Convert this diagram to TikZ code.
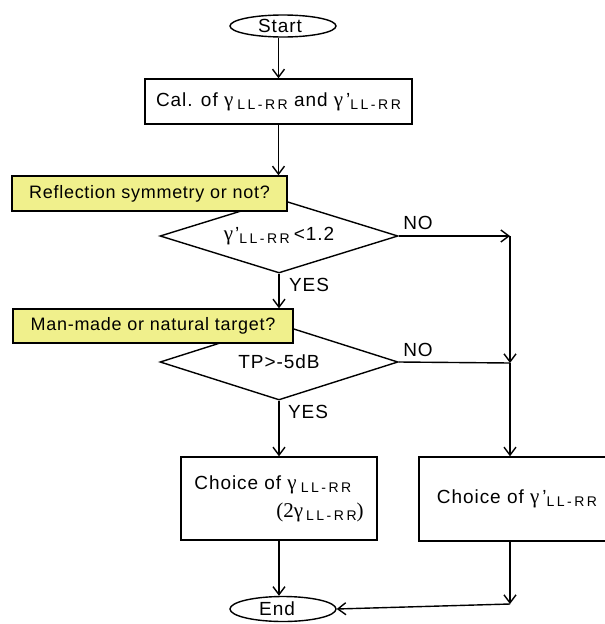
\documentclass[tikz,border=0pt]{standalone}
\usepackage{fontspec}
\setmainfont{Liberation Sans}[LetterSpace=5]
\newfontfamily\gfont{Liberation Serif}
\usetikzlibrary{shapes.geometric,arrows.meta}
\definecolor{labfill}{RGB}{240,240,140}
\newcommand{\gam}{{\gfont\fontsize{21}{23}\selectfont γ}}
\newcommand{\sublr}{\raisebox{-3pt}{\fontsize{14}{14}\selectfont\addfontfeature{LetterSpace=18}LL-RR}}
\begin{document}
\begin{tikzpicture}[x=1pt,y=-1pt,
  every node/.style={font=\fontsize{19}{23}\selectfont},
  ln/.style={line width=1.4pt},
  arr/.style={ln,-{Straight Barb[length=8pt,width=12pt,line width=1.4pt]}},
  term/.style={draw,ln,ellipse,inner sep=0pt},
  box/.style={draw,ln,rectangle,inner sep=0pt},
  lab/.style={draw,ln,rectangle,inner sep=0pt,fill=labfill,font=\fontsize{18}{22}\selectfont\addfontfeature{LetterSpace=4}},
  dia/.style={draw,ln,diamond,aspect=3.2,inner sep=0pt,minimum width=238pt}
]
\useasboundingbox (0,0) rectangle (605,624);
\clip (0,0) rectangle (605,624);
\fill[white] (0,0) rectangle (605,624);

% terminals
\node[term,minimum width=106pt,minimum height=22pt] (start) at (283,26) {};
\node (starttxt) at (280,26) {Start};
\node[term,minimum width=106pt,minimum height=25pt] (end) at (283,609) {};
\node (endtxt) at (277,609) {End};

% process boxes
\node[box,minimum width=267pt,minimum height=45pt] (box1) at (278.5,101.5)
  {Cal. of \gam\hspace{4pt}\sublr{} and \gam\hspace{3pt}'\sublr};
\node[box,minimum width=196pt,minimum height=83pt,align=left] (c1) at (279,498.5)
  {Choice of \gam\hspace{4pt}\sublr\\[5pt]\hspace*{82pt}{\gfont\fontsize{21}{23}\selectfont (2γ}\hspace{3pt}\sublr{\gfont\fontsize{21}{23}\selectfont )}};
\node[box,minimum width=196pt,minimum height=84pt] (c2) at (517,499)
  {Choice of \gam\hspace{3pt}'\sublr};

% decisions
\node[dia,minimum height=74pt] (d1) at (279,236) {\gam\hspace{2pt}'\sublr\hspace{4pt}<1.2};
\node[dia,minimum height=76pt] (d2) at (279,362) {TP>-5dB};

% question labels
\node[lab,minimum width=275pt,minimum height=35pt] (lab1) at (149.5,193.5)
  {Reflection symmetry or not?};
\node[lab,minimum width=280pt,minimum height=34pt] (lab2) at (153,326)
  {Man-made or natural target?};

% junction points
\coordinate (j1) at (510,236);
\coordinate (j2) at (510,363);
\coordinate (j4) at (510,604);

% connectors
\draw[arr] (box1.north |- start.south) -- (box1.north);
\draw[arr] (box1.south) -- (box1.south |- lab1.north);
\draw[arr] (d1.south) -- (d1.south |- lab2.north);
\draw[arr] (d2.south) -- (c1.north);
\draw[arr] (c1.south) -- (c1.south |- end.north);
\draw[arr] (d1.east) -- (j1);
\draw[arr] (j1) -- (j2);
\draw[ln] (d2.east) -- (j2);
\draw[arr] (j2) -- (j2 |- c2.north);
\draw[arr] (j4 |- c2.south) -- (j4);
\draw[arr] (j4) -- (end.east);

% branch labels
\node (no1) at (418,223) {NO};
\node (no2) at (418,350) {NO};
\node (yes1) at (309,285) {YES};
\node (yes2) at (308,412) {YES};
\end{tikzpicture}
\end{document}
